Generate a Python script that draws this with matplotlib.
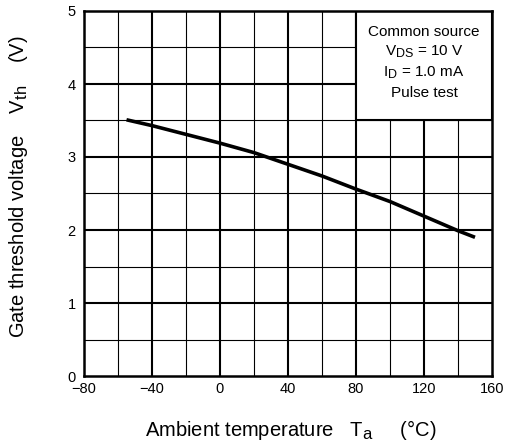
import numpy as np
import matplotlib
matplotlib.use('Agg')
from matplotlib import pyplot as plt
from matplotlib import _mathtext
from matplotlib.patches import Rectangle

plt.rcParams['font.family'] = ['Liberation Sans', 'DejaVu Sans']
plt.rcParams['mathtext.default'] = 'regular'
# datasheet style subscripts are nearly full size
_mathtext.SHRINK_FACTOR = 0.82

# curve
temp = [-55, -40, -20, 0, 20, 40, 60, 80, 100, 120, 140, 150]
vth = [3.51, 3.43, 3.31, 3.19, 3.06, 2.90, 2.74, 2.56, 2.39, 2.19, 1.99, 1.90]

x_ticks = [-80, -40, 0, 40, 80, 120, 160]
y_ticks = [0, 1, 2, 3, 4, 5]
note_lines = ['Common source', 'V$_{DS}$ = 10 V', 'I$_{D}$ = 1.0 mA', 'Pulse test']


if __name__ == '__main__':
    fig = plt.figure(figsize=(5.07, 4.48), dpi=100)
    ax = fig.add_axes([84 / 507, 1 - 376 / 448, 408 / 507, 365 / 448])
    ax.set_xlim(-80, 160)
    ax.set_ylim(0, 5)

    # grid: thin every 20 degC / 0.5 V, thick every 40 degC / 1 V
    ax.vlines(np.arange(-60, 160, 40), 0, 5, colors='black', lw=0.8, zorder=1)
    ax.vlines(np.arange(-40, 160, 40), 0, 5, colors='black', lw=1.5, zorder=1)
    ax.hlines(np.arange(0.5, 5, 1.0), -80, 160, colors='black', lw=0.8, zorder=1)
    ax.hlines(np.arange(1, 5, 1), -80, 160, colors='black', lw=1.5, zorder=1)

    # condition box in upper right corner
    ax.add_patch(Rectangle((80, 3.5), 80, 1.5, facecolor='white', edgecolor='black',
                           lw=1.5, zorder=2))
    for text, y in zip(note_lines, [4.71, 4.44, 4.15, 3.87]):
        ax.text(120, y, text, ha='center', va='center', fontsize=11, zorder=3)

    ax.plot(temp, vth, color='black', lw=2.6, solid_capstyle='butt', zorder=4)

    for s in ax.spines.values():
        s.set_linewidth(1.8)
        s.set_zorder(5)

    ax.set_xticks(x_ticks)
    ax.set_yticks(y_ticks)
    ax.set_xticklabels(['\u221280', '\u221240', '0', '40', '80', '120', '160'])
    ax.tick_params(length=0, labelsize=10.5)
    ax.tick_params(axis='x', pad=4)
    ax.tick_params(axis='y', pad=6)

    fig.text(291 / 507, 1 - 430 / 448, 'Ambient temperature   T$_{a}$     (°C)',
             ha='center', va='center', fontsize=14.5)
    fig.text(19 / 507, 1 - 187 / 448, 'Gate threshold voltage    V$_{th}$    (V)',
             ha='center', va='center', rotation=90, fontsize=14.5)

    fig.savefig('out.png', dpi=100)
